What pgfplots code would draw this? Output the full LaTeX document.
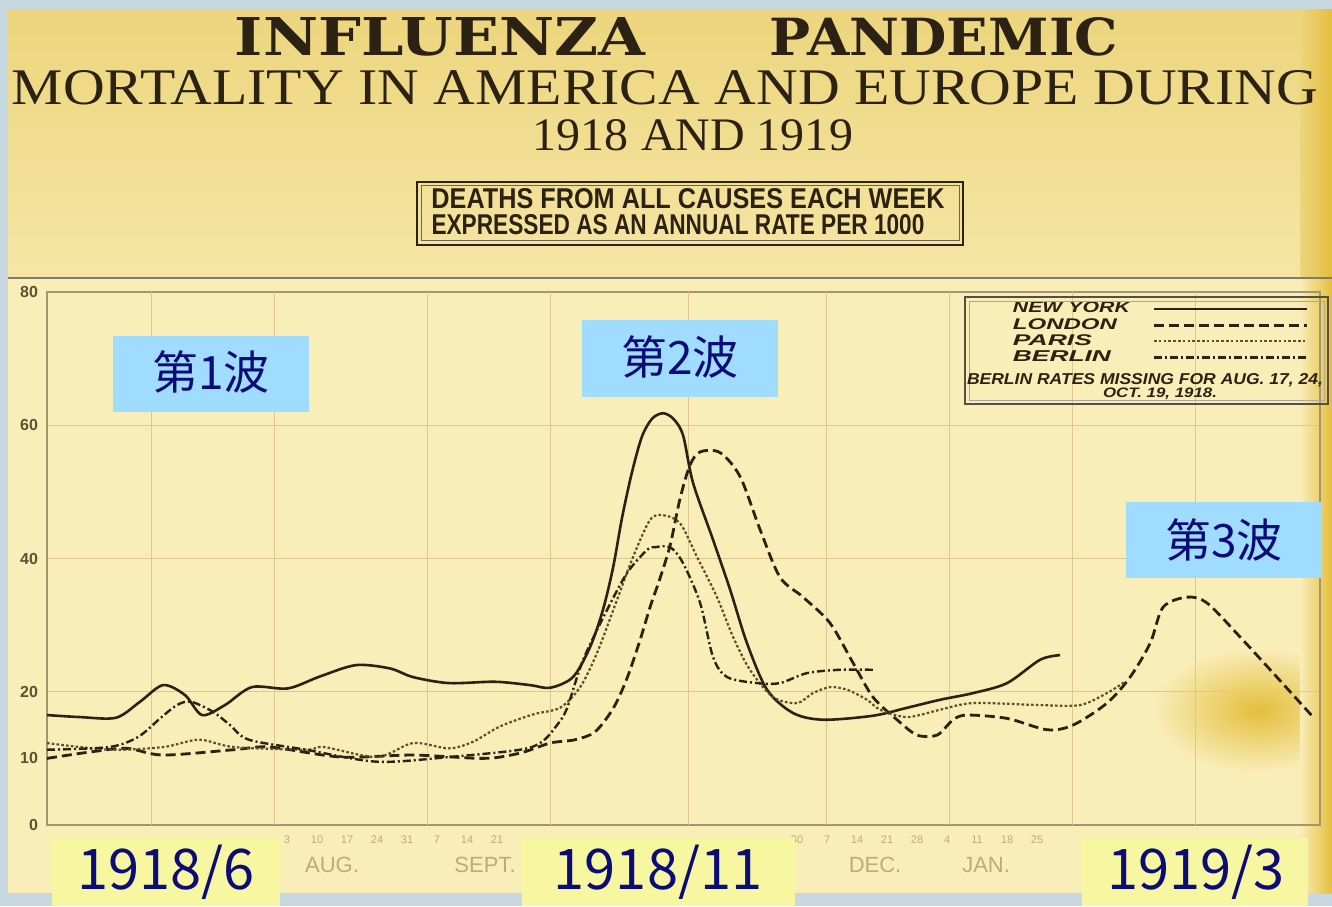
\documentclass[border=0pt]{standalone}
\usepackage{fontspec}
\usepackage{graphicx}
\usepackage{pgfplots}
\pgfplotsset{compat=1.18}
\setmainfont{Liberation Serif}
\newfontfamily\cjk{Noto Sans CJK SC}
\newfontfamily\titlefont{DejaVu Serif}
\newfontfamily\sansf{Liberation Sans}
\definecolor{paper}{RGB}{249,237,184}
\definecolor{papertop}{RGB}{236,213,125}
\definecolor{papermid}{RGB}{246,230,165}
\definecolor{framebg}{RGB}{200,216,224}
\definecolor{stain}{RGB}{228,190,60}
\definecolor{ink}{RGB}{43,34,19}
\definecolor{inkp}{RGB}{95,78,40}
\definecolor{gridc}{RGB}{218,200,145}
\definecolor{tickc}{RGB}{95,80,50}
\definecolor{faint}{RGB}{190,172,120}
\definecolor{wavebg}{RGB}{160,220,255}
\definecolor{yearbg}{RGB}{246,247,160}
\definecolor{navy}{RGB}{12,12,120}
\newcommand\fit[3]{\resizebox{#1}{#2}{#3}}
\newcommand\lgfont{\sansf\bfseries\itshape}

\begin{document}
\begin{tikzpicture}[x=0.5pt,y=0.5pt]
\useasboundingbox (0,0) rectangle (1332,906);
% ---------- paper and frame ----------
\fill[framebg] (0,0) rectangle (1332,906);
\begin{scope}
\clip (8,13) rectangle (1332,896);
\fill[paper] (8,13) rectangle (1332,896);
\shade[top color=papertop, bottom color=papermid] (8,628) rectangle (1332,896);
\shade[inner color=stain, outer color=paper] (1258,196) ellipse (105 and 62);
\shade[left color=paper, right color=stain] (1300,13) rectangle (1332,628);
\shade[left color=papertop, right color=stain] (1300,628) rectangle (1332,896);
\end{scope}
\draw[ink!60, line width=1pt] (8,628) -- (1332,628);

% ---------- titles ----------
\node[inner sep=0, text=ink] at (440,869) {\fit{205pt}{19pt}{\titlefont\bfseries INFLUENZA}};
\node[inner sep=0, text=ink] at (944,869) {\fit{174pt}{19pt}{\titlefont\bfseries PANDEMIC}};
\node[inner sep=0, text=ink] at (665,818) {\fit{653pt}{17pt}{MORTALITY IN AMERICA AND EUROPE DURING}};
\node[inner sep=0, text=ink] at (693,771) {\fit{160pt}{15.5pt}{1918 AND 1919}};
\draw[ink, line width=1.2pt] (417,724) rectangle (963,661);
\draw[ink!70, line width=0.5pt] (421,720) rectangle (959,665);
\node[inner sep=0, text=ink] at (688,707) {\fit{256.5pt}{10pt}{\sansf\bfseries DEATHS FROM ALL CAUSES EACH WEEK}};
\node[inner sep=0, text=ink] at (678,681) {\fit{246.5pt}{10pt}{\sansf\bfseries EXPRESSED AS AN ANNUAL RATE PER 1000}};

% ---------- chart ----------
\begin{axis}[
  at={(23.5pt,40.5pt)}, anchor=south west,
  scale only axis, width=636.5pt, height=266.5pt,
  xmin=0, xmax=42.43, ymin=0, ymax=80,
  clip=false,
  axis line style={draw=gridc!75!black, line width=0.7pt},
  ytick={0,20,40,60,80}, extra y ticks={10},
  extra y tick style={ymajorgrids=false},
  ymajorgrids, grid style={draw=gridc, line width=0.6pt},
  xtick={0,...,42},
  xticklabels={,,,,,,,,3,10,17,24,31,7,14,21,,,,,,,,,,30,7,14,21,28,4,11,18,25,,,,,,,,,},
  extra x ticks={3.47,7.57,12.67,16.77,21.37,25.97,30.07,34.17,38.27},
  extra x tick labels={},
  extra x tick style={xmajorgrids=true},
  major tick length=0pt,
  /pgf/number format/assume math mode=true,
  yticklabel style={font=\sansf\bfseries\fontsize{8}{8}\selectfont, text=tickc, xshift=-1pt},
  xticklabel style={font=\sansf\fontsize{5.5}{6}\selectfont, text=faint, yshift=-2pt},
  legend plot pos=right,
  legend cell align=left,
  legend image code/.code={\draw[#1] (0pt,0pt) -- (76.5pt,0pt);},
  legend style={at={(0.758,0.983)}, anchor=north west, draw=none, fill=none,
    inner sep=0pt, row sep=0.6pt, column sep=11pt, text=ink,
    nodes={inner sep=0.3pt}},
]
% New York
\addplot[draw=ink, line width=1.3pt, smooth] coordinates {
(0,16.5) (1.1,16.2) (2.3,16.1) (3.1,18.5) (3.87,21) (4.6,19.5) (5.17,16.5) (5.93,18) (6.83,20.7) (8.03,20.5) (9.1,22.3) (10.3,24) (11.43,23.5) (12.2,22.2) (13.4,21.3) (14.93,21.5) (16.1,21) (16.77,20.6) (17.53,22.2) (18.1,26.7) (18.53,32.3) (18.87,38.7) (19.17,46.2) (19.5,53) (19.83,58.3) (20.17,61) (20.53,61.8) (20.87,61) (21.2,58.5) (21.53,51.4) (22.2,42.8) (22.77,35.3) (23.33,27.3) (24,20.3) (24.87,16.8) (25.87,15.8) (27.53,16.4) (28.67,17.6) (29.77,18.8) (30.87,19.8) (32,21.3) (33.1,24.8) (33.77,25.5)};
\addlegendentry{\fit{58.5pt}{5.4pt}{\lgfont NEW YORK}}
% London
\addplot[draw=ink, line width=1.4pt, dash pattern=on 5pt off 2.5pt, smooth] coordinates {
(0,10) (1.5,11) (2.67,11.5) (3.87,10.5) (6.23,11.3) (7.43,11.7) (9.8,10.2) (12.2,10.5) (14.57,10) (15.77,10.8) (16.77,12.3) (17.6,12.8) (18.27,14) (18.87,17.5) (19.33,22) (19.77,27.8) (20.1,32.7) (20.43,37) (20.77,42) (21.1,49) (21.43,54) (21.77,56) (22.43,55.9) (23.1,52.3) (23.77,44.3) (24.43,37.2) (25.2,34.2) (26.1,30.3) (26.87,24.3) (27.53,19.2) (28.33,15.8) (29,13.5) (29.67,13.5) (30.2,15.8) (30.67,16.5) (32,16) (33.33,14.3) (34.2,15) (35.33,18.3) (36.1,22.2) (36.77,27.3) (37.2,32.7) (38,34.2) (38.67,33.3) (39.77,28.2) (40.87,22.8) (42.2,16.2)};
\addlegendentry{\fit{52pt}{5.4pt}{\lgfont LONDON}}
% Paris
\addplot[draw=inkp, line width=1.1pt, dash pattern=on 1.3pt off 1.1pt, smooth] coordinates {
(0,12.3) (2.07,11.3) (3.87,11.7) (5.07,12.8) (6.23,11.7) (8.63,11.3) (9.23,11.7) (11,10.2) (12.2,12.3) (13.4,11.5) (14.2,12.5) (15.1,14.8) (16.2,16.6) (17.1,17.6) (17.77,20.7) (18.33,25.8) (19,33.8) (19.53,40.2) (20.1,45.8) (20.53,46.5) (21.1,45.3) (21.67,40.2) (22.33,34.2) (22.87,28.2) (23.43,23.3) (24.2,19.2) (25,18.3) (25.53,19.8) (26.1,20.7) (26.67,20.3) (27.33,18.8) (27.77,17.3) (28.67,16.2) (29.77,17.3) (30.87,18.3) (33.1,18) (34.43,18) (35.33,19.8) (35.93,21.5)};
\addlegendentry{\fit{39.5pt}{5.4pt}{\lgfont PARIS}}
% Berlin
\addplot[draw=ink, line width=1.2pt, dash pattern=on 4pt off 1.5pt on 1pt off 1.5pt, smooth] coordinates {
(0,11.3) (2.07,11.7) (3.03,13.2) (3.77,16) (4.33,18) (4.8,18.5) (5.53,17) (6.1,15) (6.73,12.8) (8.63,11.3) (11,9.5) (13.4,10.2) (15.77,11.3) (16.5,12.5) (17,15) (17.33,17.5) (17.87,24.8) (18.67,32.3) (19.33,37.8) (20,41.3) (20.27,41.7) (20.77,41.7) (21.2,39.3) (21.77,33.3) (22.2,25.2) (22.67,22.2) (23.67,21.3) (24.43,21.3) (25.33,22.8) (26.43,23.3) (27.53,23.3)};
\addlegendentry{\fit{49pt}{5.4pt}{\lgfont BERLIN}}
% month names (the others lie under the date boxes)
\node[font=\sansf\fontsize{11}{11}\selectfont, text=faint, yshift=-20pt] at (axis cs:9.5,0) {AUG.};
\node[font=\sansf\fontsize{11}{11}\selectfont, text=faint, yshift=-20pt] at (axis cs:14.6,0) {SEPT.};
\node[font=\sansf\fontsize{11}{11}\selectfont, text=faint, yshift=-20pt] at (axis cs:27.6,0) {DEC.};
\node[font=\sansf\fontsize{11}{11}\selectfont, text=faint, yshift=-20pt] at (axis cs:31.3,0) {JAN.};
\end{axis}

% ---------- legend frame and note ----------
\draw[ink!80, line width=1pt] (965,609) rectangle (1328,502);
\draw[ink!40, line width=0.4pt] (969,605) rectangle (1324,506);
\node[inner sep=0, text=ink] at (1145,526) {\fit{178pt}{5.5pt}{\lgfont BERLIN RATES MISSING FOR AUG. 17, 24,}};
\node[inner sep=0, text=ink] at (1160,512) {\fit{57pt}{4.8pt}{\lgfont OCT. 19, 1918.}};

% ---------- wave annotations ----------
\fill[wavebg] (113,494) rectangle (309,570);
\node[text=navy, font=\cjk\fontsize{23}{26}\selectfont] at (211,534) {第1波};
\fill[wavebg] (582,509) rectangle (778,586);
\node[text=navy, font=\cjk\fontsize{23}{26}\selectfont] at (680,549) {第2波};
\fill[wavebg] (1126,328) rectangle (1322,404);
\node[text=navy, font=\cjk\fontsize{23}{26}\selectfont] at (1224,366) {第3波};

% ---------- date boxes ----------
\fill[yearbg] (52,0) rectangle (280,68);
\node[text=navy, font=\cjk\fontsize{28}{30}\selectfont] at (166,34) {1918/6};
\fill[yearbg] (522,0) rectangle (795,68);
\node[text=navy, font=\cjk\fontsize{28}{30}\selectfont] at (658,34) {1918/11};
\fill[yearbg] (1082,0) rectangle (1308,68);
\node[text=navy, font=\cjk\fontsize{28}{30}\selectfont] at (1196,34) {1919/3};
\end{tikzpicture}
\end{document}
